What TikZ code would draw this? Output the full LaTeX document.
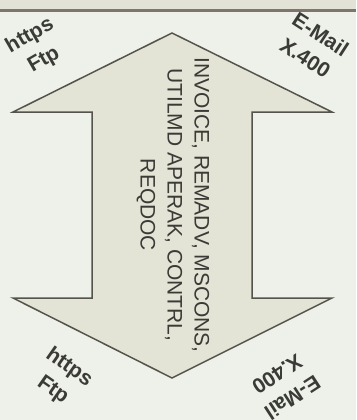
\documentclass[tikz,border=0pt]{standalone}
\usepackage{fontspec}
\setmainfont{Liberation Sans}
\definecolor{bgc}{HTML}{EEF0EA}
\definecolor{bandc}{HTML}{E2E2D6}
\definecolor{bandline}{HTML}{7E766C}
\definecolor{arrowfill}{HTML}{E3E3D6}
\definecolor{arrowline}{HTML}{55544C}
\definecolor{txt}{HTML}{3A3A36}
\tikzset{
  lbl/.style={font=\fontsize{21}{28}\selectfont\bfseries, text=txt, align=center, inner sep=0pt},
  maintxt/.style={font=\fontsize{21}{27}\selectfont, text=txt, align=center, inner sep=0pt}
}
\begin{document}
\begin{tikzpicture}[x=1pt,y=-1pt]
\useasboundingbox (0,0) rectangle (356,420);
\fill[bgc] (0,0) rectangle (356,420);
\fill[bandc] (0,0) rectangle (356,9);
\draw[bandline, line width=2.5pt] (0,10.5) -- (356,10.5);
\draw[arrowline, fill=arrowfill, line width=1.5pt, line join=miter]
  (172,33) -- (332,112) -- (252,112) -- (252,298) -- (332,298) -- (172,378)
  -- (13,298) -- (92,298) -- (92,112) -- (13,112) -- cycle;
\node[maintxt, rotate=-90] (msg) at (173,205) {INVOICE, REMADV, MSCONS,\\UTILMD APERAK, CONTRL,\\REQDOC};
\node[lbl, rotate=30] (tl) at (37,48) {https\\Ftp};
\node[lbl, rotate=-33] (tr) at (313,46) {E-Mail\\X.400};
\node[lbl, rotate=-35] (bl) at (61,379) {https\\Ftp};
\node[lbl, rotate=213] (br) at (285,386) {E-Mail\\X.400};
\end{tikzpicture}
\end{document}
